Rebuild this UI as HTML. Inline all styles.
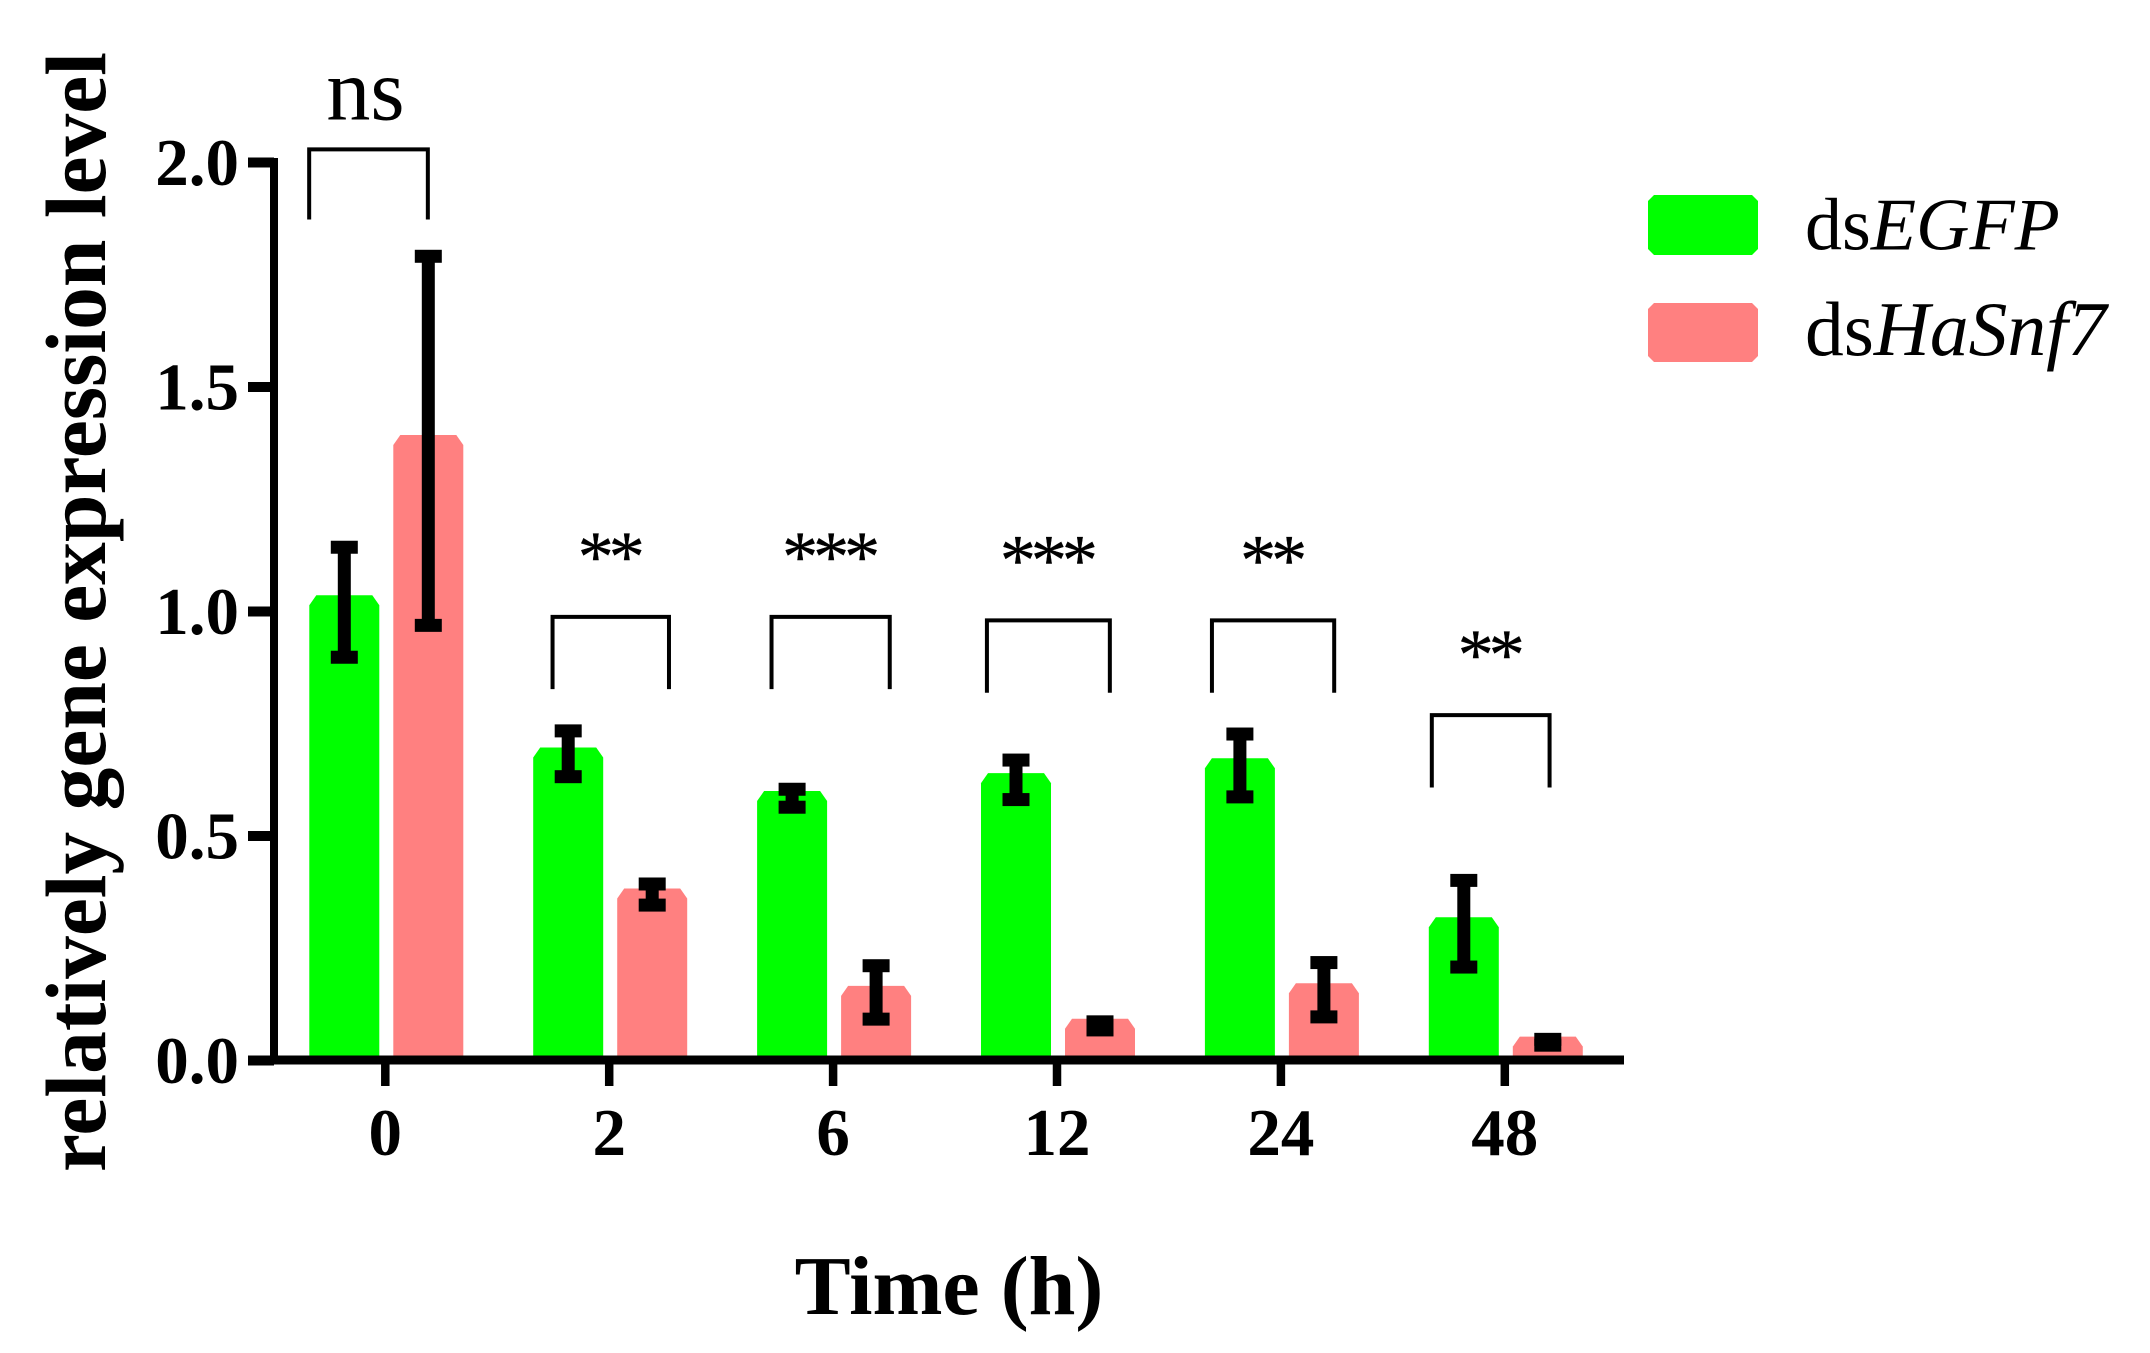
<!DOCTYPE html>
<html lang="en">
<head>
<meta charset="utf-8">
<title>Relative gene expression over time</title>
<style>
html,body{margin:0;padding:0;background:#fff;width:2150px;height:1353px;overflow:hidden}
svg{display:block}
text{font-family:"Liberation Serif",serif;fill:#000}
</style>
</head>
<body>
<svg id="chart" xmlns="http://www.w3.org/2000/svg" width="2150" height="1353" viewBox="0 0 2150 1353">
<rect x="0" y="0" width="2150" height="1353" fill="#fff"/>
<text transform="translate(105,1172) rotate(-90)" font-size="85.5" font-weight="bold">relatively gene expression level</text>
<text x="949" y="1314" font-size="84" font-weight="bold" text-anchor="middle">Time (h)</text>
<polygon points="1654,195 1752,195 1758,201 1758,249 1752,255 1654,255 1648,249 1648,201" fill="#00ff00"/>
<text x="1805" y="249.5" font-size="74">ds<tspan font-style="italic">EGFP</tspan></text>
<polygon points="1654,303 1752,303 1758,309 1758,356 1752,362 1654,362 1648,356 1648,309" fill="#ff8080"/>
<text x="1805" y="355" font-size="77.5">ds<tspan font-style="italic">HaSnf7</tspan></text>
<g id="plot"></g>
</svg>
<script>
const categories = ['0', '2', '6', '12', '24', '48'];
const yTicks = ['0.0', '0.5', '1.0', '1.5', '2.0'];
const egfpValues = [1.035, 0.696, 0.599, 0.639, 0.672, 0.318];
const snf7Values = [1.392, 0.382, 0.165, 0.092, 0.171, 0.052];
const egfpErrHigh = [1.142, 0.733, 0.603, 0.668, 0.726, 0.400];
const egfpErrLow = [0.897, 0.631, 0.563, 0.580, 0.586, 0.207];
const snf7ErrHigh = [1.79, 0.392, 0.210, 0.085, 0.217, 0.046];
const snf7ErrLow = [0.968, 0.345, 0.091, 0.067, 0.096, 0.033];
const sigLabels = ['ns', '**', '***', '***', '**', '**'];
const sigFrom = [-0.34, 0.747, 1.725, 2.687, 3.692, 4.674];
const sigTo = [0.19, 1.267, 2.253, 3.236, 4.238, 5.2];
const sigTop = [2.028, 0.987, 0.987, 0.979, 0.979, 0.768];
const sigBottom = [1.872, 0.826, 0.826, 0.818, 0.818, 0.607];

const NS = 'http://www.w3.org/2000/svg';
const plot = document.getElementById('plot');
const x0 = 385.3, xStep = 223.9, yBase = 1060, yUnit = 449;
const greenOffset = -41, pinkOffset = 43, barHalf = 35;
const xScale = function (i) { return x0 + i * xStep; };
const yScale = function (v) { return yBase - v * yUnit; };

function make(tag, attrs) {
  const el = document.createElementNS(NS, tag);
  Object.keys(attrs).forEach(function (k) { el.setAttribute(k, attrs[k]); });
  plot.appendChild(el);
  return el;
}

function barPoints(cx, v) {
  const l = cx - barHalf, r = cx + barHalf, t = yScale(v), b = yBase;
  const cy = Math.min(10, Math.max(0, b - t));
  return [[l, b], [l, t + cy], [l + 7, t], [r - 7, t], [r, t + cy], [r, b]].map(function (p) { return p.join(','); }).join(' ');
}

function drawSeries(values, high, low, dx, color, key) {
  values.forEach(function (v, i) {
    const cx = xScale(i) + dx;
    const bar = make('polygon', { points: barPoints(cx, v), fill: color });
    
    
  });
  values.forEach(function (v, i) {
    const cx = xScale(i) + dx;
    const hi = yScale(high[i]), lo = yScale(low[i]);
    const stem = make('rect', { x: cx - 6.5, y: hi, width: 13, height: lo - hi, fill: '#000' });
    
    
    const capTop = make('rect', { x: cx - 13.5, y: hi - 6.5, width: 27, height: 13, fill: '#000' });
    
    
    const capBottom = make('rect', { x: cx - 13.5, y: lo - 6.5, width: 27, height: 13, fill: '#000' });
    
    
  });
}

drawSeries(egfpValues, egfpErrHigh, egfpErrLow, greenOffset, '#00ff00', 'dsegfp');
drawSeries(snf7Values, snf7ErrHigh, snf7ErrLow, pinkOffset, '#ff8080', 'dshasnf7');

const yAxisLine = make('rect', { x: 270, y: yScale(2) - 4, width: 8, height: yBase - yScale(2) + 8, fill: '#000' });


const xAxisLine = make('rect', { x: 248, y: yBase - 4.5, width: 1376, height: 9, fill: '#000' });



yTicks.forEach(function (t) {
  const y = yScale(parseFloat(t));
  const tick = make('rect', { x: 248, y: y - 4.5, width: 26, height: 10, fill: '#000' });
  
  
  const label = make('text', { x: 239, y: y + 23, 'font-size': 67, 'font-weight': 'bold', 'text-anchor': 'end' });
  label.textContent = t;
  
  
});

categories.forEach(function (c, i) {
  const x = xScale(i);
  const tick = make('rect', { x: x - 4.25, y: yBase, width: 8.5, height: 26, fill: '#000' });
  
  
  const label = make('text', { x: x, y: 1155, 'font-size': 67, 'font-weight': 'bold', 'text-anchor': 'middle' });
  label.textContent = c;
  
  
});

sigLabels.forEach(function (s, i) {
  const left = xScale(sigFrom[i]), right = xScale(sigTo[i]);
  const top = yScale(sigTop[i]), bottom = yScale(sigBottom[i]);
  const bracket = make('polyline', {
    points: left + ',' + bottom + ' ' + left + ',' + top + ' ' + right + ',' + top + ' ' + right + ',' + bottom,
    fill: 'none', stroke: '#000', 'stroke-width': 4
  });
  
  
  const isNs = s === 'ns';
  const label = make('text', isNs ? {
    x: (left + right) / 2 - 3, y: top - 30, 'font-size': 88, 'text-anchor': 'middle'
  } : {
    x: (left + right) / 2 - 2, y: top - 36, 'font-size': 72, 'text-anchor': 'middle',
    'letter-spacing': -5, stroke: '#000', 'stroke-width': 0.4
  });
  label.textContent = s;
  
  
});
</script>
</body>
</html>
